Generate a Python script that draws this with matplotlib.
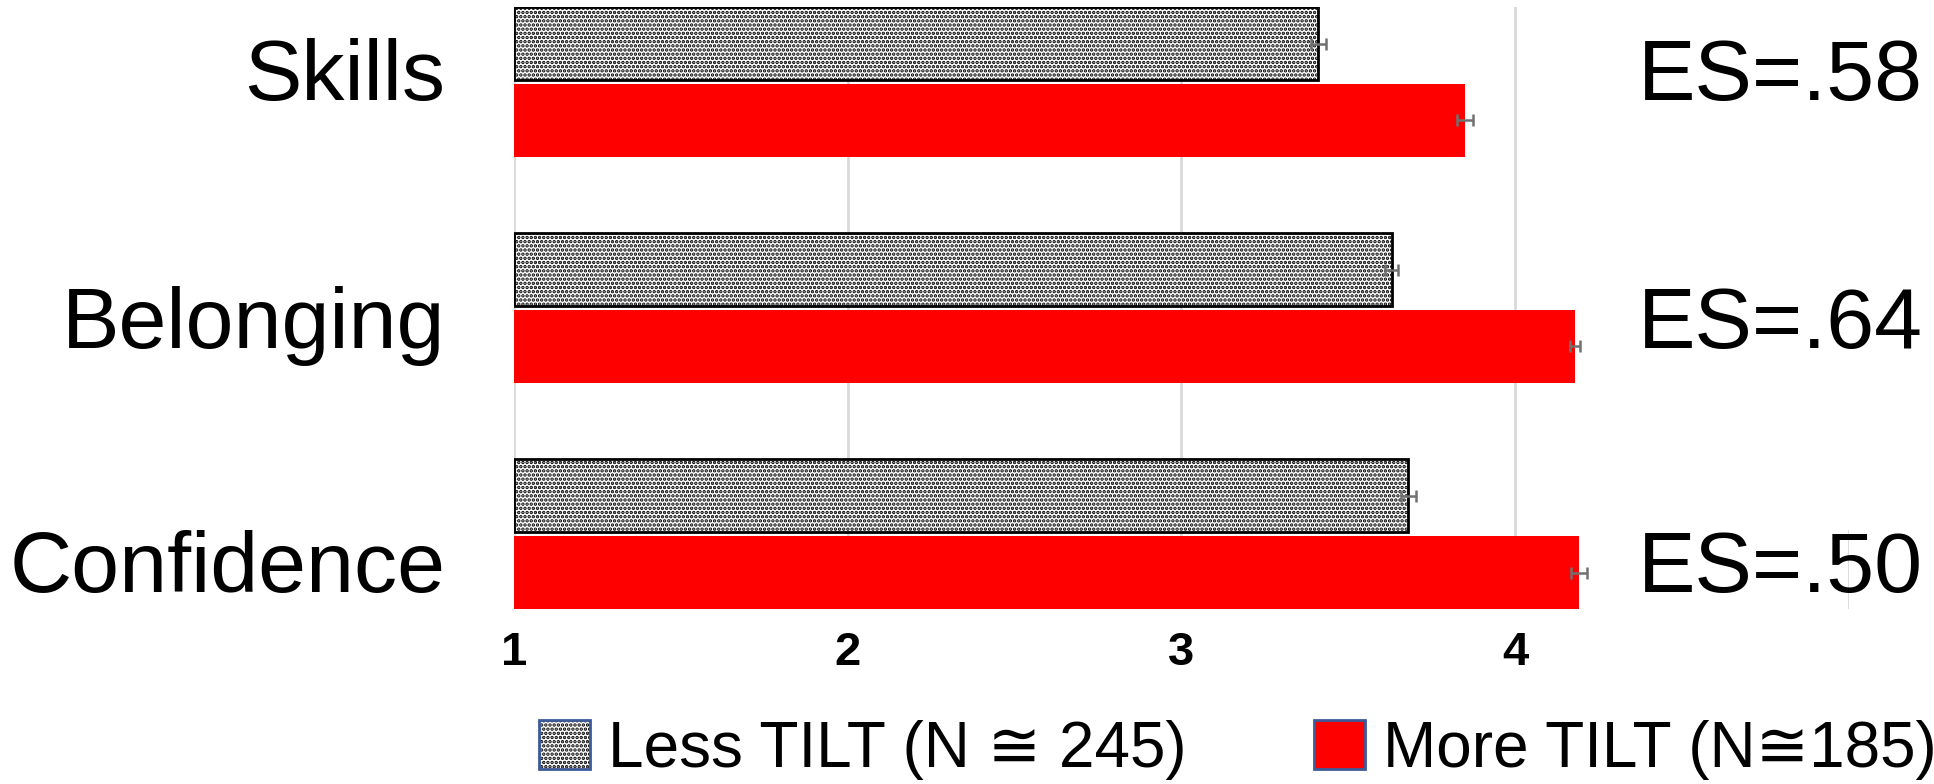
import numpy as np
import matplotlib.pyplot as plt
from matplotlib.patches import Patch
from matplotlib.legend_handler import HandlerTuple

categories = ['Skills', 'Belonging', 'Confidence']
less_tilt = [3.41, 3.63, 3.68]
more_tilt = [3.85, 4.18, 4.19]
less_err = [0.022, 0.020, 0.022]
more_err = [0.024, 0.015, 0.024]
es_labels = ['ES=.58', 'ES=.64', 'ES=.50']
xticks = [1, 2, 3, 4]

plt.rcParams['font.family'] = ['Liberation Sans', 'DejaVu Sans']
plt.rcParams['hatch.linewidth'] = 1.7

fig = plt.figure(figsize=(19.34, 7.84), dpi=100)
ax = fig.add_axes([0.2658, 0.2232, 0.956 - 0.2658, 0.991 - 0.2232])

# Skills on top
y = np.arange(len(categories))[::-1]
h = 0.323
off = 0.17

ax.barh(y + off, np.array(less_tilt) - 1, left=1, height=h, color='white',
        edgecolor='black', linewidth=2.0, hatch='....', zorder=2)
ax.barh(y - off, np.array(more_tilt) - 1, left=1, height=h, color='#FF0000',
        linewidth=0, zorder=2)
ax.errorbar(less_tilt, y + off, xerr=less_err, fmt='none', ecolor='#707070',
            elinewidth=1.8, capsize=4.5, capthick=1.8, zorder=3)
ax.errorbar(more_tilt, y - off, xerr=more_err, fmt='none', ecolor='#707070',
            elinewidth=1.8, capsize=4.5, capthick=1.8, zorder=3)

ax.set_xlim(1, 5)
ax.set_ylim(-off - h / 2, 2 + off + h / 2)
ax.set_xticks(xticks)
ax.set_xticklabels([str(t) for t in xticks],
                   fontdict={'family': ['Liberation Sans Narrow', 'Liberation Sans'],
                             'weight': 'bold', 'size': 34})
ax.tick_params(axis='x', length=0, pad=16)
ax.set_yticks([])
ax.grid(axis='x', color='#D9D9D9', linewidth=2, zorder=0)
ax.axvline(5, ymin=0, ymax=0.13, color='#D9D9D9', linewidth=2, zorder=0)
for s in ax.spines.values():
    s.set_visible(False)

# text boxes sit apart from the bars, baselines in figure fraction
label_base = [0.8724, 0.5561, 0.2449]
for yb, cat, es in zip(label_base, categories, es_labels):
    fig.text(0.2302, yb, cat, ha='right', va='baseline', fontsize=62)
    fig.text(0.9943, yb, es, ha='right', va='baseline', fontsize=62)

less_fill = Patch(facecolor='white', edgecolor='black', hatch='....', linewidth=0)
less_border = Patch(facecolor='none', edgecolor='#3C5A9A', linewidth=2)
more_patch = Patch(facecolor='#FF0000', edgecolor='#3C5A9A', linewidth=2)
fig.legend([(less_fill, less_border), more_patch],
           ['Less TILT (N \u2245 245)', 'More TILT (N\u2245185)'],
           handler_map={tuple: HandlerTuple(ndivide=1)},
           loc='center', bbox_to_anchor=(0.64, 0.044), ncol=2, frameon=False,
           fontsize=46, handlelength=0.8, handleheight=0.8,
           handletextpad=0.28, columnspacing=2.0, borderpad=0)

fig.savefig('out.png', dpi=100)
